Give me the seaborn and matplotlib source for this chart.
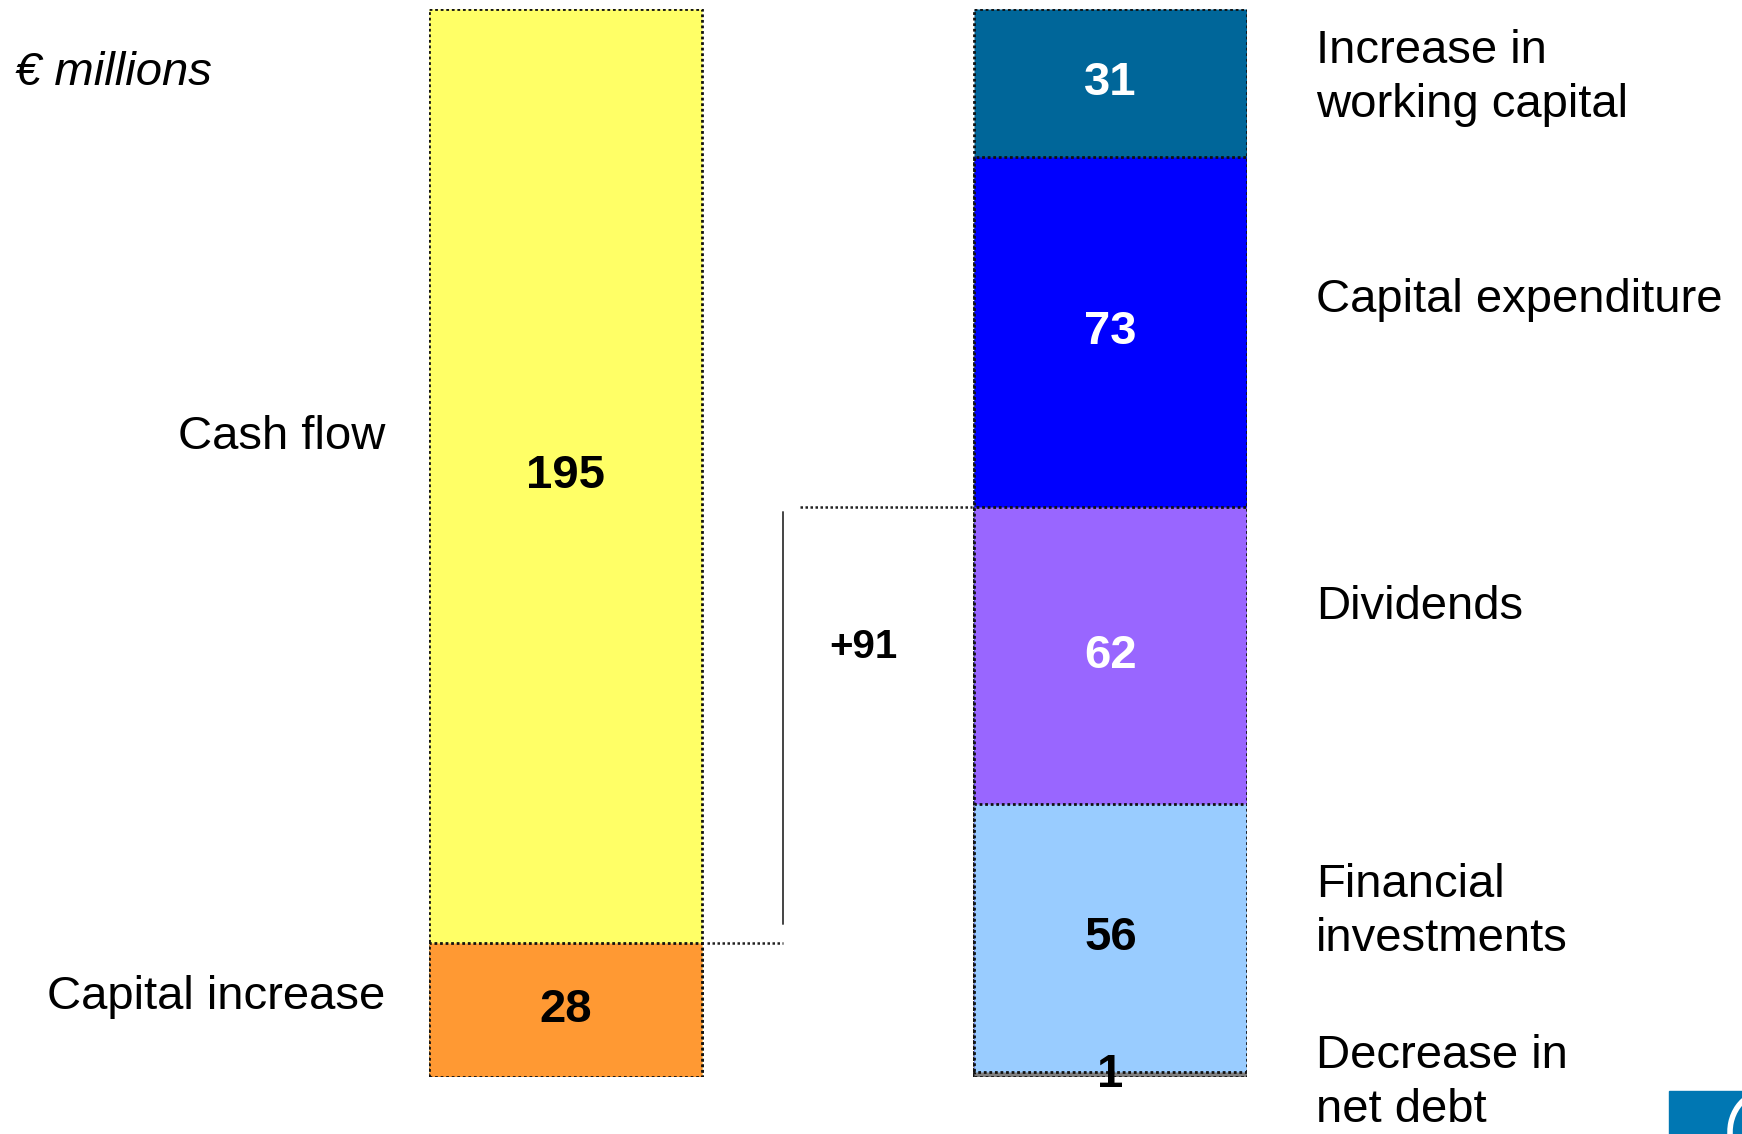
import numpy as np
import pandas as pd
import matplotlib
matplotlib.use("Agg")
import matplotlib.pyplot as plt
import matplotlib.transforms as mtransforms
from matplotlib.patches import Rectangle, Arc
import seaborn as sns

# ---------------- data ----------------
bar_names = ["Sources", "Uses"]

left_labels = ["Capital increase", "Cash flow"]          # bottom -> top
left_values = [28, 195]
left_colors = ["#FF9933", "#FFFF66"]
left_text_colors = ["black", "black"]

right_labels = ["Decrease in\nnet debt", "Financial\ninvestments", "Dividends",
                "Capital expenditure", "Increase in\nworking capital"]  # bottom -> top
right_values = [1, 56, 62, 73, 31]
right_colors = ["#808080", "#99CCFF", "#9966FF", "#0000FF", "#006699"]
right_text_colors = ["black", "black", "white", "white", "white"]

unit_label = "€ millions"

# ---------------- style ----------------
sns.set_theme(style="white")
plt.rcParams["font.family"] = ["Liberation Sans", "DejaVu Sans"]
plt.rcParams["text.color"] = "black"

W, H = 1742, 1134
fig = plt.figure(figsize=(W / 100, H / 100), dpi=100)
ax = fig.add_axes([429 / W, (H - 1077) / H, (1247 - 429) / W, (1077 - 9) / H])

edge_kw = dict(edgecolor="#111111", linewidth=2.0, linestyle=(0, (1, 1)))


def stacked(side, values, colors):
    cum = np.cumsum(values)
    # draw tallest first, then smaller cumulative bars on top -> stacked look
    for top, col in zip(cum[::-1], colors[::-1]):
        df = pd.DataFrame({"bar": [side], "value": [top]})
        sns.barplot(data=df, x="bar", y="value", order=bar_names, color=col,
                    saturation=1, width=0.5, ax=ax, **edge_kw)
    return cum


left_cum = stacked(bar_names[0], left_values, left_colors)
right_cum = stacked(bar_names[1], right_values, right_colors)

ax.set_xlim(-0.25, 1.25)
ax.set_ylim(0, max(left_cum[-1], right_cum[-1]))
ax.set_axis_off()

val_font = dict(fontsize=34, fontweight="bold", ha="center", va="center")
lab_font = dict(fontsize=34, va="center", linespacing=1.3, color="black")

# label anchor heights (figure pixels from top), bottom -> top order
left_label_y = [997, 437]
right_label_y = [1083, 912, 607, 300, 78]

# left bar values and labels
bottoms = np.concatenate([[0], left_cum[:-1]])
for b, v, tc in zip(bottoms, left_values, left_text_colors):
    ax.text(0, b + v / 2, str(v), color=tc, **val_font)
for lab, py in zip(left_labels, left_label_y):
    fig.text(385 / W, 1 - py / H, lab, ha="right", **lab_font)

# right bar values and labels
bottoms = np.concatenate([[0], right_cum[:-1]])
for b, v, tc in zip(bottoms, right_values, right_text_colors):
    ax.text(1, b + v / 2, str(v), color=tc, **val_font)
for lab, py in zip(right_labels, right_label_y):
    fig.text(1316 / W, 1 - py / H, lab, ha="left", **lab_font)

# bracket showing the difference
low = left_cum[0]                     # top of capital increase
high = right_cum[2]                   # top of dividends
diff = high - low
line_kw = dict(color="#222222", linewidth=1.8, linestyle=(0, (1, 1)),
               transform=ax.transData, clip_on=False)
ax.plot([0.26, 0.4], [low, low], **line_kw)
ax.plot([0.4, 0.4], [low + 4, high - 1], color="#444444", linewidth=1.4,
        clip_on=False)
ax.plot([0.43, 0.745], [high, high], **line_kw)
fig.text(863 / W, 1 - 647 / H, f"+{diff}", fontsize=29, fontweight="bold",
         ha="center", va="center", color="black")

# unit label
fig.text(15 / W, 1 - 73 / H, unit_label, fontsize=34, fontstyle="italic",
         ha="left", va="center", color="black")

# corner logo fragment
fig.patches.append(Rectangle((1669 / W, 0), (W - 1669) / W, (H - 1091) / H,
                             transform=fig.transFigure, color="#0077B3",
                             zorder=5))
fig.patches.append(Arc((1765 / W, 2 / H), 70 / W, 80 / H, angle=0,
                       theta1=90, theta2=200, transform=fig.transFigure,
                       color="white", linewidth=4, zorder=6))

fig.savefig("out.png", dpi=100)
